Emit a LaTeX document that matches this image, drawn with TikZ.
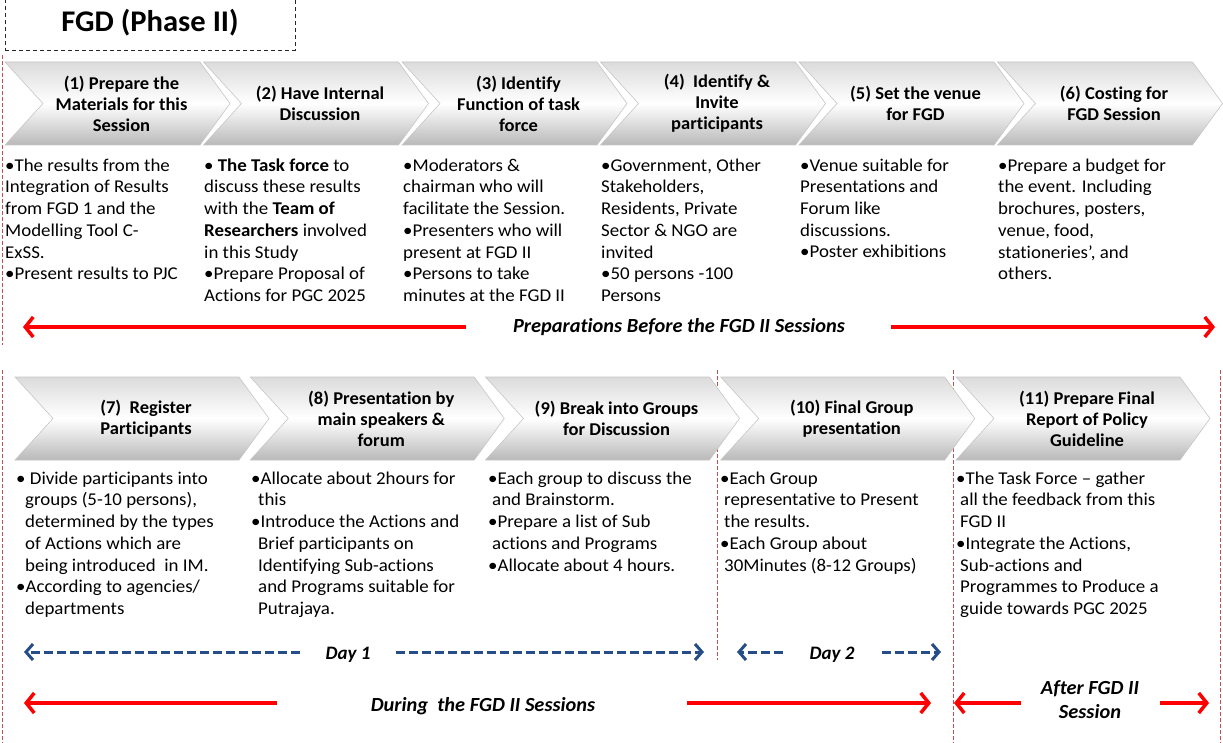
\documentclass[tikz,border=0pt]{standalone}
\usepackage{fontspec}
\setmainfont{Carlito}[Ligatures={TeX,NoCommon}]
\usetikzlibrary{arrows.meta,calc}

\definecolor{sepred}{RGB}{192,80,77}
\definecolor{dayblue}{RGB}{37,77,135}
\definecolor{arrred}{RGB}{255,0,0}

\tikzset{
  chevfill/.style={top color=gray!28, bottom color=gray!55, middle color=white, draw=gray!45, line width=0.6pt},
  chevtext/.style={align=center, font=\fontsize{18}{21}\selectfont\bfseries\addfontfeature{FakeStretch=1.03}, inner sep=0pt},
  bodytext/.style={align=left, anchor=north west, inner sep=0pt, font=\fontsize{18}{21.7}\selectfont\addfontfeature{FakeStretch=1.05}},
  phase/.style={line width=3.5pt, draw=arrred, -{Straight Barb[length=8pt,width=20pt]}},
  dayarrow/.style={line width=3pt, draw=dayblue, dash pattern=on 9pt off 4pt, -{Straight Barb[length=7pt,width=16pt]}},
  sepline/.style={draw=sepred, line width=0.7pt, dash pattern=on 4pt off 2pt},
  phaselabel/.style={font=\fontsize{20}{24}\selectfont\bfseries\itshape\addfontfeature{FakeStretch=1.02}, align=center, inner sep=0pt},
  daylabel/.style={font=\fontsize{19}{21}\selectfont\bfseries\itshape, inner sep=0pt},
  titlebox/.style={draw=black!85, line width=0.8pt, dash pattern=on 4pt off 3pt, minimum width=290pt, minimum height=54pt, inner sep=0pt, font=\fontsize{30}{34}\selectfont\bfseries\addfontfeature{FakeStretch=1.02}},
}

% chevron: #1 left x, #2 top y, #3 bottom y, #4 top width, #5 node name, #6 label
\newcommand\chevronstep[6]{%
  \shade[chevfill] (#1,#2) -- ({#1+#4},#2) -- ({#1+#4+30},{(#2+#3)/2}) -- ({#1+#4},#3)
    -- (#1,#3) -- ({#1+38},{(#2+#3)/2}) -- cycle;
  \node[chevtext] (#5) at ({#1+(38+#4)/2},{(#2+#3)/2}) {#6};
}
\newcommand\bul{\textbullet}
\newcommand\startline{\rule{0pt}{15pt}}

\begin{document}
\begin{tikzpicture}[x=1pt,y=-1pt]
\useasboundingbox (0,0) rectangle (1223,743);

% title
\node[titlebox] (title) at (150,23) {FGD (Phase II)};

% separators
\coordinate (s1a) at (2,55);    \coordinate (s1b) at (2,345);
\coordinate (s2a) at (2,370);   \coordinate (s2b) at (2,743);
\coordinate (s3a) at (717,370); \coordinate (s3b) at (717,660);
\coordinate (s4a) at (953,370); \coordinate (s4b) at (953,743);
\coordinate (s5a) at (1220,370);\coordinate (s5b) at (1220,743);
\foreach \a/\b in {s1a/s1b,s2a/s2b,s3a/s3b,s4a/s4b,s5a/s5b}
  \draw[sepline] (\a) -- (\b);

% upper row of steps
\chevronstep{5}{62}{145}{195}{c1}{(1) Prepare the\\Materials for this\\Session}
\chevronstep{203.5}{62}{145}{195}{c2}{(2) Have Internal\\Discussion}
\chevronstep{402}{62}{145}{195}{c3}{(3) Identify\\Function of task\\force}
\chevronstep{600.5}{62}{145}{195}{c4}{(4)\ \ Identify \&\\Invite\\participants}
\chevronstep{799}{62}{145}{195}{c5}{(5) Set the venue\\for FGD}
\chevronstep{997.5}{62}{145}{195}{c6}{(6) Costing for\\FGD Session}

\node[bodytext] (t1) at (5,156) {\startline\bul The results from the\\Integration of Results\\from FGD 1 and the\\Modelling Tool C-\\ExSS.\\\bul Present results to PJC};
\node[bodytext] (t2) at (204,156) {\startline\bul\ \textbf{The Task force} to\\discuss these results\\with the \textbf{Team of}\\\textbf{Researchers} involved\\in this Study\\\bul Prepare Proposal of\\Actions for PGC 2025};
\node[bodytext] (t3) at (403,156) {\startline\bul Moderators \&\\chairman who will\\facilitate the Session.\\\bul Presenters who will\\present at FGD II\\\bul Persons to take\\minutes at the FGD II};
\node[bodytext] (t4) at (601,156) {\startline\bul Government, Other\\Stakeholders,\\Residents, Private\\Sector \& NGO are\\invited\\\bul 50 persons -100\\Persons};
\node[bodytext] (t5) at (800,156) {\startline\bul Venue suitable for\\Presentations and\\Forum like\\discussions.\\\bul Poster exhibitions};
\node[bodytext] (t6) at (998,156) {\startline\bul Prepare a budget for\\the event. Including\\brochures, posters,\\venue, food,\\stationeries', and\\others.};

% phase before the sessions
\node[phaselabel] (prep) at (679,327) {Preparations Before the FGD II Sessions};
\coordinate (prepLa) at (466,327); \coordinate (prepL) at (23,327);
\coordinate (prepRa) at (891,327); \coordinate (prepR) at (1215,327);
\draw[phase] (prepLa) -- (prepL);
\draw[phase] (prepRa) -- (prepR);

% lower row of steps
\chevronstep{15}{377}{460}{224}{c7}{(7)\ \ Register\\Participants}
\chevronstep{250.25}{377}{460}{224}{c8}{(8) Presentation by\\main speakers \&\\forum}
\chevronstep{485.5}{377}{460}{224}{c9}{(9) Break into Groups\\for Discussion}
\chevronstep{720.75}{377}{460}{224}{c10}{(10) Final Group\\presentation}
\chevronstep{956}{377}{460}{224}{c11}{(11) Prepare Final\\Report of Policy\\Guideline}

\node[bodytext] (t7) at (16,469) {\startline\bul\ Divide participants into\\\hspace*{9pt}groups (5-10 persons),\\\hspace*{9pt}determined by the types\\\hspace*{9pt}of Actions which are\\\hspace*{9pt}being introduced\ \ in IM.\\\bul According to agencies/\\\hspace*{9pt}departments};
\node[bodytext] (t8) at (251,469) {\startline\bul Allocate about 2hours for\\\hspace*{7pt}this\\\bul Introduce the Actions and\\\hspace*{7pt}Brief participants on\\\hspace*{7pt}Identifying Sub-actions\\\hspace*{7pt}and Programs suitable for\\\hspace*{7pt}Putrajaya.};
\node[bodytext] (t9) at (488,469) {\startline\bul Each group to discuss the\\\hspace*{4pt}and Brainstorm.\\\bul Prepare a list of Sub\\\hspace*{4pt}actions and Programs\\\bul Allocate about 4 hours.};
\node[bodytext] (t10) at (720,469) {\startline\bul Each Group\\\hspace*{4pt}representative to Present\\\hspace*{4pt}the results.\\\bul Each Group about\\\hspace*{4pt}30Minutes (8-12 Groups)};
\node[bodytext] (t11) at (956,469) {\startline\bul The Task Force \textendash{} gather\\\hspace*{4pt}all the feedback from this\\\hspace*{4pt}FGD II\\\bul Integrate the Actions,\\\hspace*{4pt}Sub-actions and\\\hspace*{4pt}Programmes to Produce a\\\hspace*{4pt}guide towards PGC 2025};

% days
\node[daylabel] (day1) at (348,655) {Day 1};
\coordinate (d1La) at (300,652); \coordinate (d1L) at (24,652);
\coordinate (d1Ra) at (396,652); \coordinate (d1R) at (704,652);
\draw[dayarrow] (d1La) -- (d1L);
\draw[dayarrow] (d1Ra) -- (d1R);

\node[daylabel] (day2) at (832,655) {Day 2};
\coordinate (d2La) at (783,652); \coordinate (d2L) at (737,652);
\coordinate (d2Ra) at (882,652); \coordinate (d2R) at (941,652);
\draw[dayarrow] (d2La) -- (d2L);
\draw[dayarrow] (d2Ra) -- (d2R);

% phase during the sessions
\node[phaselabel] (during) at (483,706) {During\ \ the FGD II Sessions};
\coordinate (durLa) at (277,703); \coordinate (durL) at (24,703);
\coordinate (durRa) at (687,703); \coordinate (durR) at (931,703);
\draw[phase] (durLa) -- (durL);
\draw[phase] (durRa) -- (durR);

% phase after the sessions
\node[phaselabel] (after) at (1090,700) {After FGD II\\Session};
\coordinate (aftLa) at (1021,703); \coordinate (aftL) at (954,703);
\coordinate (aftRa) at (1160,703); \coordinate (aftR) at (1209,703);
\draw[phase] (aftLa) -- (aftL);
\draw[phase] (aftRa) -- (aftR);
\end{tikzpicture}
\end{document}
